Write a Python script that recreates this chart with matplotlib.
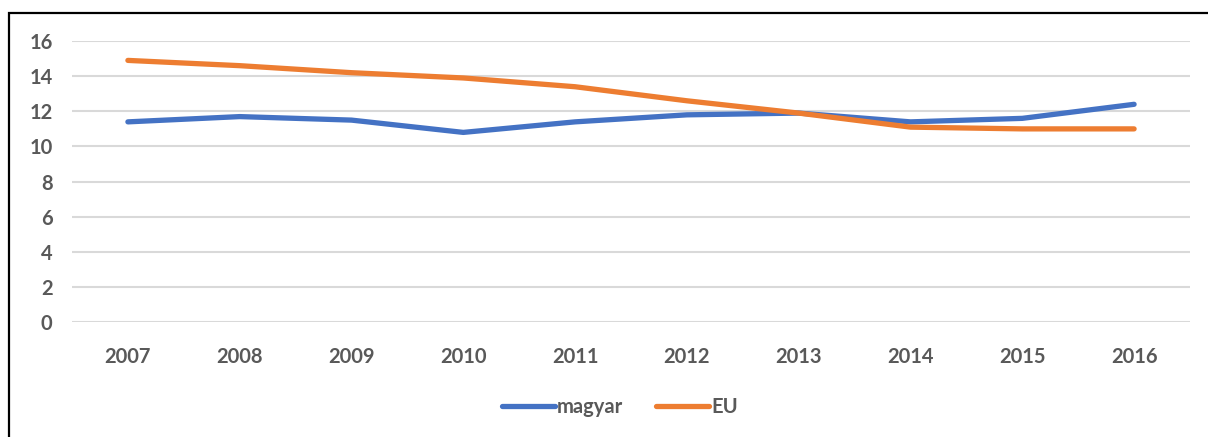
import matplotlib
matplotlib.use('Agg')
import matplotlib.pyplot as plt
from matplotlib.patches import Rectangle

# adatok
years = ['2007', '2008', '2009', '2010', '2011', '2012', '2013', '2014', '2015', '2016']
magyar = [11.4, 11.7, 11.5, 10.8, 11.4, 11.8, 11.9, 11.4, 11.6, 12.4]
eu = [14.9, 14.6, 14.2, 13.9, 13.4, 12.6, 11.9, 11.1, 11.0, 11.0]

plt.rcParams['font.family'] = ['Lato', 'DejaVu Sans']
plt.rcParams['font.weight'] = 'bold'

fig = plt.figure(figsize=(12.08, 4.37), dpi=100)
ax = fig.add_axes([0.0596, 0.263, 0.9255, 0.643])

x = range(len(years))
ax.plot(x, magyar, color='#4472C4', lw=3.8, solid_capstyle='round', label='magyar', zorder=3)
ax.plot(x, eu, color='#ED7D31', lw=3.8, solid_capstyle='round', label='EU', zorder=3)

ax.set_xlim(-0.5, 9.5)
ax.set_ylim(0, 16)
ax.set_yticks(range(0, 17, 2))
ax.set_xticks(list(x))
ax.set_xticklabels(years)
ax.grid(axis='y', color='#D9D9D9', lw=1.5)
ax.set_axisbelow(True)
for s in ax.spines.values():
    s.set_visible(False)
ax.tick_params(length=0, colors='#595959', labelsize=14.5)
ax.tick_params(axis='x', pad=18)
ax.tick_params(axis='y', pad=14)

leg = fig.legend(loc='center', bbox_to_anchor=(0.513, 0.068), ncol=2, frameon=False,
                 fontsize=14.5, handlelength=2.65, handletextpad=0.1, columnspacing=1.6)
for t in leg.get_texts():
    t.set_color('#595959')

# keret
fig.patches.append(Rectangle((9 / 1208, -0.1), 1.2, 1.1 - 13 / 437, transform=fig.transFigure,
                             fill=False, edgecolor='black', lw=1.6))

fig.savefig('out.png', dpi=100)
